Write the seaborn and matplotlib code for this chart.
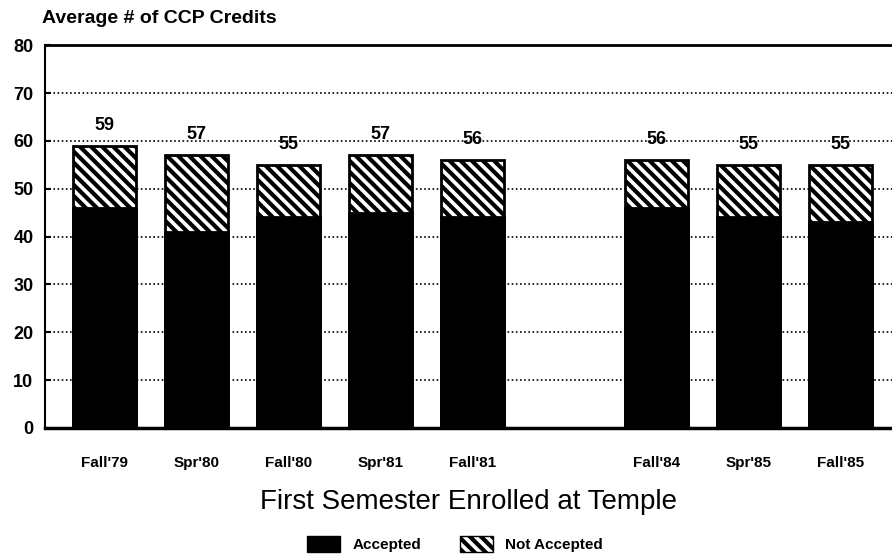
import matplotlib
matplotlib.use("Agg")
import matplotlib.pyplot as plt
import seaborn as sns
import pandas as pd
from matplotlib.patches import Patch

semesters = ["Fall'79", "Spr'80", "Fall'80", "Spr'81", "Fall'81", "Fall'84", "Spr'85", "Fall'85"]
total = [59, 57, 55, 57, 56, 56, 55, 55]
accepted = [46, 41, 44, 45, 44, 46, 44, 43]
order = ["Fall'79", "Spr'80", "Fall'80", "Spr'81", "Fall'81", " ", "Fall'84", "Spr'85", "Fall'85"]
yticks = [0, 10, 20, 30, 40, 50, 60, 70, 80]

df = pd.DataFrame({"semester": semesters, "total": total, "accepted": accepted})

sns.set_style("white")
plt.rcParams["font.family"] = ["Liberation Sans", "DejaVu Sans"]
plt.rcParams["hatch.linewidth"] = 3.0
plt.rcParams["text.color"] = "black"
plt.rcParams["xtick.color"] = "black"
plt.rcParams["ytick.color"] = "black"
plt.rcParams["axes.labelcolor"] = "black"

fig = plt.figure(figsize=(8.92, 5.58), dpi=100)
ax = fig.add_axes([0.05, 0.233, 0.95, 0.686])

sns.barplot(data=df, x="semester", y="total", order=order, color="white",
            edgecolor="black", linewidth=2, hatch="\\\\\\", width=0.69, ax=ax, zorder=3)
sns.barplot(data=df, x="semester", y="accepted", order=order, color="black",
            edgecolor="black", linewidth=2, width=0.69, ax=ax, zorder=4)

for s, t in zip(semesters, total):
    xi = order.index(s)
    ax.text(xi, t + 4.3, str(t), ha="center", va="center", fontsize=13,
            fontweight="bold", zorder=5)

ax.set_ylim(0, 80)
ax.set_xlim(-0.65, 8.56)
ax.set_yticks(yticks)
ax.set_yticklabels([str(v) for v in yticks], fontsize=13, fontweight="bold")
ax.set_xticks(range(len(order)))
ax.set_xticklabels(order, fontsize=11, fontweight="bold")
ax.tick_params(axis="x", length=0, pad=20)
ax.tick_params(axis="y", length=4, width=1.5, direction="in", pad=8, left=True)
for yv in yticks[1:-1]:
    ax.axhline(yv, color="black", linestyle=(0, (1, 1.5)), linewidth=1.2, zorder=1)

for side in ["top", "left", "bottom"]:
    ax.spines[side].set_visible(True)
    ax.spines[side].set_color("black")
ax.spines["left"].set_linewidth(1.5)
ax.spines["top"].set_linewidth(2.0)
ax.spines["bottom"].set_linewidth(2.5)
ax.spines["right"].set_visible(False)

ax.set_ylabel("")
ax.set_xlabel("First Semester Enrolled at Temple", fontsize=20, labelpad=14)
fig.text(0.047, 0.966, "Average # of CCP Credits", fontsize=14, fontweight="bold",
         ha="left", va="center")

handles = [Patch(facecolor="black", edgecolor="black", label="Accepted"),
           Patch(facecolor="white", edgecolor="black", hatch="\\\\\\", label="Not Accepted")]
fig.legend(handles=handles, loc="center", bbox_to_anchor=(0.51, 0.025), ncol=2,
           frameon=False, prop={"size": 11, "weight": "bold"}, handlelength=2.2,
           handleheight=1.3, columnspacing=2.5)

fig.savefig("out.png", dpi=100)
